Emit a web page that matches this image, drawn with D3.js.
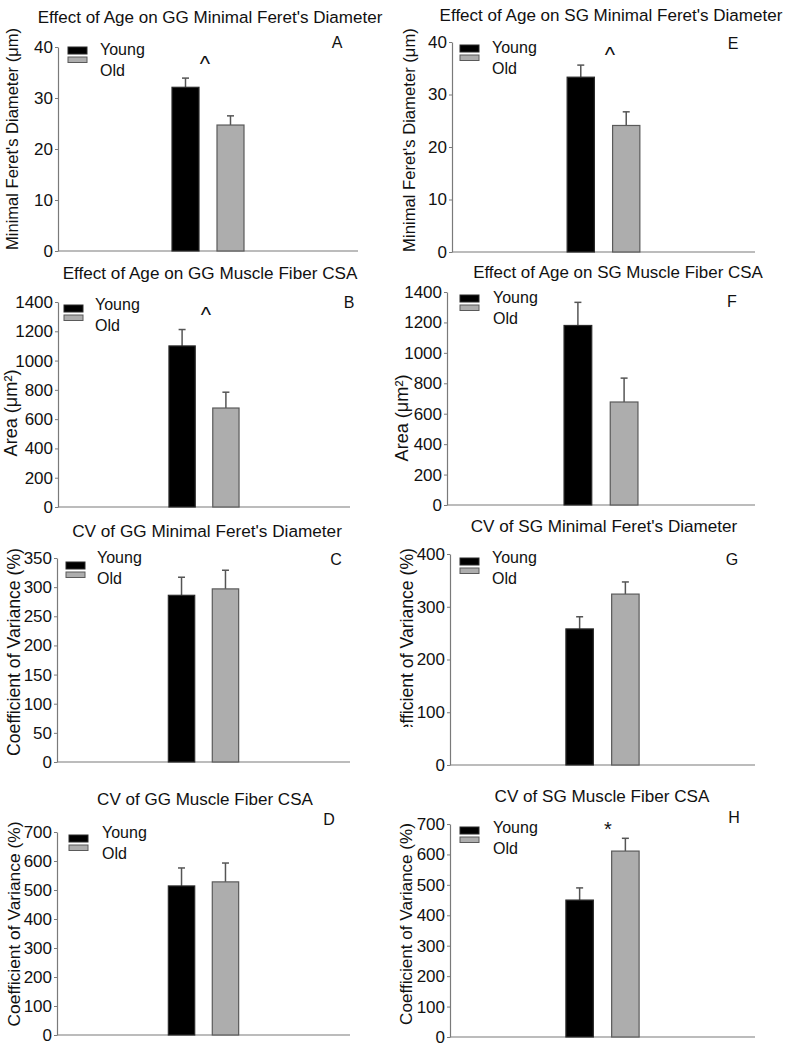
<!DOCTYPE html>
<html><head><meta charset="utf-8">
<script src="https://cdn.jsdelivr.net/npm/d3@7/dist/d3.min.js"></script>
<style>
body{margin:0;background:#fff;}
svg{display:block;font-family:"Liberation Sans",Arial,sans-serif;}
</style></head>
<body>
<svg id="chart" width="788" height="1050"></svg>
<script>
// ---- data ----
const groups = ["Young", "Old"];
const panelIds = ["A", "B", "C", "D", "E", "F", "G", "H"];
const titles = [
  "Effect of Age on GG Minimal Feret's Diameter",
  "Effect of Age on GG Muscle Fiber CSA",
  "CV of GG Minimal Feret's Diameter",
  "CV of GG Muscle Fiber CSA",
  "Effect of Age on SG Minimal Feret's Diameter",
  "Effect of Age on SG Muscle Fiber CSA",
  "CV of SG Minimal Feret's Diameter",
  "CV of SG Muscle Fiber CSA"
];
const yLabels = [
  "Minimal Feret's Diameter (μm)",
  "Area (μm²)",
  "Coefficient of Variance (%)",
  "Coefficient of Variance (%)",
  "Minimal Feret's Diameter (μm)",
  "Area (μm²)",
  "Coefficient of Variance (%)",
  "Coefficient of Variance (%)"
];
const yMax = [40, 1400, 350, 700, 40, 1400, 400, 700];
const tickStep = [10, 200, 50, 100, 10, 200, 100, 100];
const youngMean = [32.1, 1100, 286, 514, 33.3, 1180, 258, 450];
const youngSEM = [1.8, 112, 31, 62, 2.3, 152, 23, 40];
const oldMean = [24.7, 676, 297, 528, 24.1, 677, 324, 611];
const oldSEM = [1.8, 108, 32, 65, 2.6, 157, 23, 42];
const sigMarks = ["^", "^", "", "", "^", "", "", "*"];

// ---- layout (pixels) ----
const layout = [
  {ax:58, base:251, top:47, xEnd:358, tx:210, ty:23, tw:345, lx:68, ly:47, ltx:100, lty:55, px:337, py:48, mx:205, my:71, labX:18, labY:139, lw:222},
  {ax:58, base:507, top:302, xEnd:350, tx:210, ty:279, tw:295, lx:64, ly:305, ltx:95, lty:310, px:349, py:308, mx:206, my:322, labX:17, labY:413, lw:87},
  {ax:57, base:762, top:558, xEnd:350, tx:207, ty:537, tw:270, lx:66, ly:562, ltx:97, lty:563, px:336, py:565, mx:0, my:0, labX:20, labY:652, lw:208},
  {ax:57, base:1035, top:832, xEnd:350, tx:205, ty:805, tw:216, lx:69, ly:835, ltx:102, lty:838, px:329, py:825, mx:0, my:0, labX:20, labY:924, lw:205},
  {ax:452, base:252, top:42, xEnd:755, tx:611, ty:21, tw:343, lx:460, ly:45, ltx:492, lty:53, px:733, py:49, mx:610, my:62, labX:415, labY:140, lw:224},
  {ax:447, base:505, top:292, xEnd:755, tx:618, ty:278, tw:290, lx:460, ly:295, ltx:493, lty:303, px:732, py:307, mx:0, my:0, labX:408, labY:418, lw:87},
  {ax:450, base:765, top:554, xEnd:755, tx:604, ty:532, tw:267, lx:460, ly:558, ltx:492, lty:563, px:732, py:565, mx:0, my:0, labX:413, labY:652, lw:208, clipBottom:727},
  {ax:450, base:1037, top:824, xEnd:755, tx:602, ty:802, tw:215, lx:460, ly:827, ltx:493, lty:833, px:734, py:823, mx:608, my:836, labX:412, labY:924, lw:202}
];

const fills = {Young:"#000000", Old:"#adadad"};
const strokes = {Young:"#2a2a2a", Old:"#5a5a5a"};
const axisColor = "#7a7a7a";
const textColor = "#111";

const svg = d3.select("#chart");
const defs = svg.append("defs");

// size a text element so its rendered length matches a target width
function fitSize(sel, target) {
  sel.attr("font-size", 10);
  const len = sel.node().getComputedTextLength();
  sel.attr("font-size", (10 * target / len).toFixed(2));
}

panelIds.forEach((id, i) => {
  const L = layout[i];
  const g = svg.append("g").attr("class", "panel-" + id);

  const y = d3.scaleLinear().domain([0, yMax[i]]).range([L.base, L.top]);
  const w = L.xEnd - L.ax;
  const x = d3.scaleBand().domain(groups)
    .range([L.ax + 0.38 * w, L.ax + 0.62 * w]).paddingInner(0.4).paddingOuter(0);

  // title
  const t = g.append("text").attr("x", L.tx).attr("y", L.ty).attr("text-anchor", "middle")
    .attr("fill", textColor).text(titles[i]);
  fitSize(t, L.tw);

  // y axis
  const ticks = d3.range(0, yMax[i] + tickStep[i] / 2, tickStep[i]);
  const yAxis = d3.axisLeft(y).tickValues(ticks).tickSize(3).tickSizeOuter(0).tickPadding(2)
    .tickFormat(d3.format("d"));
  const ag = g.append("g").attr("transform", `translate(${L.ax},0)`).call(yAxis);
  ag.select(".domain").attr("stroke", axisColor).attr("stroke-width", 1.2);
  ag.selectAll(".tick line").attr("stroke", axisColor);
  ag.selectAll(".tick text").attr("font-size", 17).attr("fill", textColor)
    .attr("font-family", "'Liberation Sans',Arial,sans-serif");

  // x axis baseline
  g.append("line").attr("x1", L.ax).attr("x2", L.xEnd).attr("y1", y(0)).attr("y2", y(0))
    .attr("stroke", axisColor).attr("stroke-width", 1.2);

  // y label
  const holder = L.clipBottom ? g.append("g") : g;
  if (L.clipBottom) {
    const cid = "clip-" + id;
    defs.append("clipPath").attr("id", cid).append("rect")
      .attr("x", L.labX - 30).attr("y", L.top - 40).attr("width", 40).attr("height", L.clipBottom - (L.top - 40));
    holder.attr("clip-path", `url(#${cid})`);
  }
  const lab = holder.append("text")
    .attr("transform", `translate(${L.labX},${L.labY}) rotate(-90)`)
    .attr("text-anchor", "middle").attr("fill", textColor)
    .text(yLabels[i]);
  fitSize(lab, L.lw);

  // bars
  const data = [
    {k:"Young", m:youngMean[i], s:youngSEM[i]},
    {k:"Old", m:oldMean[i], s:oldSEM[i]}
  ];
  const eb = g.selectAll(".err").data(data).enter().append("g");
  eb.append("line")
    .attr("x1", d => x(d.k) + x.bandwidth() / 2).attr("x2", d => x(d.k) + x.bandwidth() / 2)
    .attr("y1", d => y(d.m)).attr("y2", d => y(d.m + d.s))
    .attr("stroke", "#555").attr("stroke-width", 1.5);
  eb.append("line")
    .attr("x1", d => x(d.k) + x.bandwidth() / 2 - 3.5).attr("x2", d => x(d.k) + x.bandwidth() / 2 + 3.5)
    .attr("y1", d => y(d.m + d.s)).attr("y2", d => y(d.m + d.s))
    .attr("stroke", "#555").attr("stroke-width", 1.5);
  g.selectAll(".bar").data(data).enter().append("rect")
    .attr("x", d => x(d.k)).attr("width", x.bandwidth())
    .attr("y", d => y(d.m)).attr("height", d => y(0) - y(d.m))
    .attr("fill", d => fills[d.k]).attr("stroke", d => strokes[d.k]).attr("stroke-width", 1.2);

  // legend
  groups.forEach((k, j) => {
    g.append("rect").attr("x", L.lx).attr("y", L.ly + j * 10).attr("width", 19).attr("height", j === 0 ? 7 : 5.5)
      .attr("fill", fills[k]).attr("stroke", strokes[k]).attr("stroke-width", 1);
    g.append("text").attr("x", L.ltx).attr("y", L.lty + j * 21).attr("font-size", 16)
      .attr("fill", textColor).text(k);
  });

  // panel letter
  g.append("text").attr("x", L.px).attr("y", L.py).attr("text-anchor", "middle")
    .attr("font-size", 16).attr("fill", textColor).text(id);

  // significance mark
  if (sigMarks[i]) {
    g.append("text").attr("x", L.mx).attr("y", L.my).attr("text-anchor", "middle")
      .attr("font-size", sigMarks[i] === "^" ? 22 : 20).attr("fill", textColor).text(sigMarks[i]);
  }
});
</script>
</body></html>
